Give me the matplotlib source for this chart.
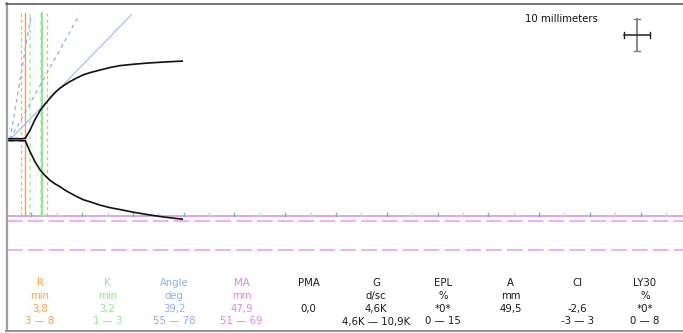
import numpy as np
import matplotlib
matplotlib.use("Agg")
import matplotlib.pyplot as plt

#Trace samples, time in minutes and half amplitude of each branch in mm
times = [0.3, 1.0, 2.0, 3.0, 3.8, 4.7, 5.7, 6.7, 7.7, 8.7, 9.6, 10.6, 11.6, 12.6, 13.9, 15.2, 16.8, 18.5, 20.5, 22.5, 25.0, 28.0, 31.0, 34.7]
upper = [0.3, 0.2, 0.3, 0.2, 0.4, 2.8, 6.2, 9.0, 11.1, 13.0, 14.6, 16.0, 17.1, 18.1, 19.2, 20.2, 21.0, 21.7, 22.5, 23.1, 23.5, 23.9, 24.2, 24.5]
lower = [-0.3, -0.4, -0.3, -0.4, -0.4, -3.7, -6.9, -9.5, -11.3, -12.8, -13.8, -14.7, -15.8, -16.7, -17.8, -18.8, -19.6, -20.5, -21.3, -21.9, -22.7, -23.5, -24.2, -24.9]

#Results and normal ranges
r_time = 3.8
k_time = 3.2
angle = 39.2
ma = 47.9
r_range = [3, 8]
k_range = [1, 3]
angle_range = [55, 78]
ma_range = [51, 69]

#Other parameters in the table
other_names = ["PMA", "G", "EPL", "A", "CI", "LY30"]
other_units = ["", "d/sc", "%", "mm", "", "%"]
other_values = ["0,0", "4,6K", "*0*", "49,5", "-2,6", "*0*"]
other_ranges = ["", "4,6K \u2014 10,9K", "0 \u2014 15", "", "-3 \u2014 3", "0 \u2014 8"]

#Colours for the four main parameters
c_r = "#f9a23c"
c_k = "#8fe88f"
c_angle = "#8fadf0"
c_ma = "#d98ae3"

#Paper: 2 mm per minute horizontally
paper_speed = 2.0
angle_start = 0.8
angle_top = 39.0

#Screen scale of the trace
W, H = 683, 333
px_min = 5.077
px_mm = 3.2
x_zero = 6.0
y_zero = 139.5

fig = plt.figure(figsize=(W / 100, H / 100), dpi=100)
ax = fig.add_axes([0, 0, 1, 1])
ax.set_xlim(-x_zero / px_min, (W - x_zero) / px_min)
ax.set_ylim((y_zero - H) / px_mm, y_zero / px_mm)
ax.axis("off")

top = 39.5
base = -ma / 2

#MA line, ticks every 5 min and MA normal range
ax.plot([0.13, 140], [base, base], color="#dca6e6", lw=1.4, zorder=1)
for t in np.arange(5, 135, 5):
    if t % 10 == 5:
        tc = "#6aaae8"
    else:
        tc = "#b4d6f2"
    ax.plot([t, t], [base, base + 1.0], color=tc, lw=1.0, zorder=2)
for m in ma_range:
    ax.plot([0.13, 140], [-m / 2, -m / 2], color="#e6b6ec", lw=1.5,
            dashes=(7.5, 2.5), zorder=1)

#R and K markers
for t in r_range:
    ax.plot([t, t], [base, top], color="#ffb04a", lw=0.9, dashes=(2.5, 2.5), zorder=3)
ax.plot([r_time, r_time], [base, top], color=c_r, lw=1.0, zorder=3)
for k in k_range:
    ax.plot([r_time + k, r_time + k], [base, top], color="#a4f0a4", lw=1.1,
            dashes=(2.5, 2.5), zorder=3)
ax.plot([r_time + k_time, r_time + k_time], [base, top], color=c_k, lw=1.4, zorder=3)

#Angle lines from the start of the trace
for a in angle_range:
    t_end = angle_start + angle_top / (paper_speed * np.tan(np.radians(a)))
    ax.plot([angle_start, t_end], [0, angle_top], color=c_angle, lw=0.9,
            dashes=(3, 3), zorder=4)
t_end = angle_start + angle_top / (paper_speed * np.tan(np.radians(angle)))
ax.plot([angle_start, t_end], [0, angle_top], color="#9bb8f5", lw=0.8, zorder=4)

#The trace itself
ax.plot(times, upper, color="#111111", lw=1.2, zorder=5, solid_joinstyle="round")
ax.plot(times, lower, color="#111111", lw=1.2, zorder=5, solid_joinstyle="round")

#10 mm scale cross, 10 mm = 5 min on the paper
sx = 124.3
sy = 32.66
half_t = 5.0 / paper_speed
ax.plot([sx, sx], [sy - 5, sy + 5], color="#808080", lw=1.3, zorder=5)
ax.plot([sx - 0.6, sx + 0.6], [sy + 5, sy + 5], color="#808080", lw=1.0, zorder=5)
ax.plot([sx - 0.6, sx + 0.6], [sy - 5, sy - 5], color="#808080", lw=1.0, zorder=5)
ax.plot([sx - half_t, sx + half_t], [sy, sy], color="#202020", lw=1.1, zorder=6)
ax.plot([sx - half_t, sx - half_t], [sy - 0.9, sy + 0.9], color="#202020", lw=1.0, zorder=6)
ax.plot([sx + half_t, sx + half_t], [sy - 0.9, sy + 0.9], color="#202020", lw=1.0, zorder=6)

#Overlay in pixels for frame and table
ov = fig.add_axes([0, 0, 1, 1], zorder=10)
ov.set_xlim(0, W)
ov.set_ylim(H, 0)
ov.axis("off")
ov.patch.set_alpha(0)

ov.plot([6.5, 6.5], [3, 331], color="#a0a0a0", lw=1.6)
ov.plot([6, W], [3.5, 3.5], color="#505050", lw=1.1)
ov.plot([6, W], [330.5, 330.5], color="#909090", lw=1.4)

ov.text(598, 19, "10 millimeters", ha="right", va="center", fontsize=7.3, color="#111111")


def fmt(v):
    return ("%.1f" % v).replace(".", ",")


def rng(lo, hi):
    return "%d \u2014 %d" % (lo, hi)


names = ["R", "K", "Angle", "MA"] + other_names
units = ["min", "min", "deg", "mm"] + other_units
values = [fmt(r_time), fmt(k_time), fmt(angle), fmt(ma)] + other_values
ranges = [rng(*r_range), rng(*k_range), rng(*angle_range), rng(*ma_range)] + other_ranges
colors = [c_r, c_k, c_angle, c_ma] + ["#1a1a1a"] * len(other_names)

rows = [283.5, 296, 309, 321.5]
for i in range(len(names)):
    cx = 40 + 67.2 * i
    for j, s in enumerate([names[i], units[i], values[i], ranges[i]]):
        if s == "":
            continue
        ov.text(cx, rows[j], s, ha="center", va="center", fontsize=7.3, color=colors[i])

fig.savefig("out.png", dpi=100)
